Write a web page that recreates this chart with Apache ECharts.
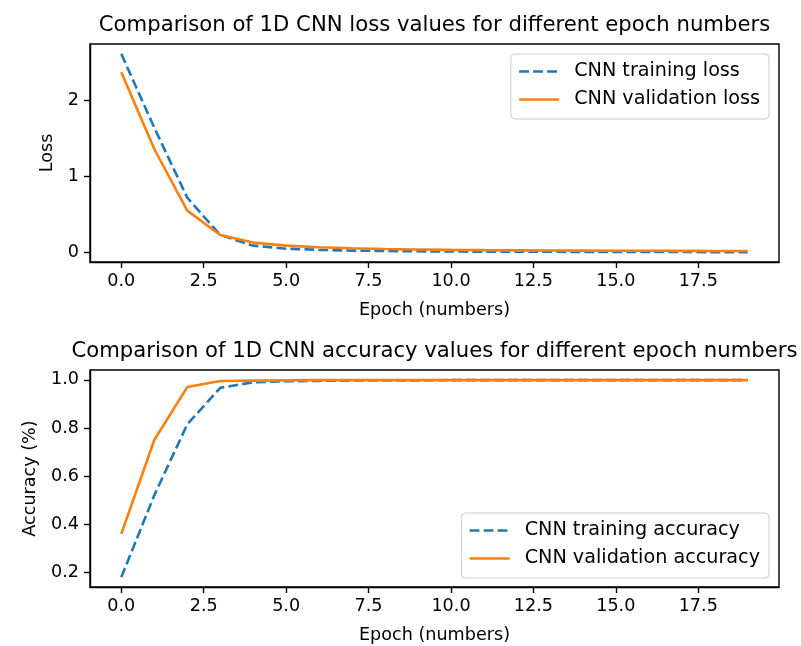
<!DOCTYPE html>
<html>
<head>
<meta charset="utf-8">
<script src="https://cdn.jsdelivr.net/npm/echarts@6/dist/echarts.min.js"></script>
<style>html,body{margin:0;padding:0;background:#fff;}#c{width:801px;height:646px;}</style>
</head>
<body>
<div id="c"></div>
<script>
const epochs = [0,1,2,3,4,5,6,7,8,9,10,11,12,13,14,15,16,17,18,19];
const trainLoss = [2.61,1.64,0.72,0.23,0.09,0.05,0.035,0.025,0.02,0.016,0.013,0.011,0.01,0.009,0.008,0.007,0.006,0.006,0.005,0.005];
const valLoss = [2.37,1.36,0.55,0.23,0.13,0.09,0.068,0.055,0.046,0.04,0.035,0.031,0.028,0.026,0.024,0.023,0.022,0.021,0.02,0.02];
const trainAcc = [0.18,0.52,0.815,0.967,0.99,0.994,0.996,0.997,0.998,0.998,0.999,0.999,0.999,0.999,0.999,0.999,0.999,0.999,0.999,0.999];
const valAcc = [0.36,0.75,0.97,0.995,0.997,0.998,0.999,0.999,0.999,0.999,0.999,0.999,0.999,0.999,0.999,0.999,0.999,0.999,0.999,0.999];
const xTicks = [0,2.5,5,7.5,10,12.5,15,17.5];
const lossTicks = [0,1,2];
const accTicks = [0.2,0.4,0.6,0.8,1.0];
const titles = ['Comparison of 1D CNN loss values for different epoch numbers','Comparison of 1D CNN accuracy values for different epoch numbers'];
const names = ['CNN training loss','CNN validation loss','CNN training accuracy','CNN validation accuracy'];

const BLUE = '#1f77b4', ORANGE = '#ff7f0e', FONT = 'DejaVu Sans', FS = 17.6, TFS = 21.2, LFS = 19.2;
const pair = (ys) => epochs.map((e,i) => [e, ys[i]]);

function xAxis(gi){
  return {
    type:'value', gridIndex:gi, min:-0.95, max:19.95,
    name:'Epoch (numbers)', nameLocation:'middle', nameGap:39,
    nameTextStyle:{fontFamily:FONT,fontSize:FS,color:'#000'},
    axisLine:{show:true,onZero:false,lineStyle:{color:'#000',width:1.4}},
    axisTick:{show:true,length:6,customValues:xTicks,lineStyle:{color:'#000',width:1.4}},
    axisLabel:{customValues:xTicks,margin:10,fontFamily:FONT,fontSize:FS,color:'#000',formatter:v=>v.toFixed(1)},
    splitLine:{show:false}
  };
}
function yAxis(gi,min,max,ticks,name,gap,fmt){
  return {
    type:'value', gridIndex:gi, min:min, max:max,
    name:name, nameLocation:'middle', nameGap:gap, nameRotate:90,
    nameTextStyle:{fontFamily:FONT,fontSize:FS,color:'#000'},
    axisLine:{show:true,onZero:false,lineStyle:{color:'#000',width:1.4}},
    axisTick:{show:true,length:6,customValues:ticks,lineStyle:{color:'#000',width:1.4}},
    axisLabel:{customValues:ticks,margin:11,fontFamily:FONT,fontSize:FS,color:'#000',formatter:fmt},
    splitLine:{show:false}
  };
}
function line(name,gi,ys,color,dashed){
  return {
    name:name, type:'line', xAxisIndex:gi, yAxisIndex:gi, data:pair(ys),
    symbol:'none', showSymbol:false, silent:true, animation:false,
    lineStyle:{color:color,width:2.6,type:dashed?[9.8,4.2]:'solid'},
    itemStyle:{color:color}
  };
}
function legend(data,pos){
  return Object.assign({
    orient:'vertical', data:data, itemWidth:40, itemHeight:14, itemGap:9,
    padding:[8,9,10,7], borderColor:'#cccccc', borderWidth:1, borderRadius:4,
    backgroundColor:'rgba(255,255,255,0.8)',
    itemStyle:{opacity:0},
    lineStyle:{width:2.6},
    textStyle:{fontFamily:FONT,fontSize:LFS,color:'#000',padding:[0,0,0,10]},
    selectedMode:false
  },pos);
}

const chart = echarts.init(document.getElementById('c'),null,{renderer:'canvas'});
chart.setOption({
  animation:false,
  backgroundColor:'#fff',
  title:[
    {text:titles[0],left:434.5,top:15,textAlign:'center',padding:0,textStyle:{fontFamily:FONT,fontSize:TFS,fontWeight:'normal',color:'#000'}},
    {text:titles[1],left:434.5,top:341,textAlign:'center',padding:0,textStyle:{fontFamily:FONT,fontSize:TFS,fontWeight:'normal',color:'#000'}}
  ],
  grid:[
    {left:90,top:44,width:689,height:218,show:true,borderColor:'#000',borderWidth:1.4,containLabel:false},
    {left:90,top:370,width:689,height:217,show:true,borderColor:'#000',borderWidth:1.4,containLabel:false}
  ],
  xAxis:[xAxis(0),xAxis(1)],
  yAxis:[
    yAxis(0,-0.125,2.74,lossTicks,'Loss',34,v=>String(Math.round(v))),
    yAxis(1,0.139,1.041,accTicks,'Accuracy (%)',51,v=>v.toFixed(1))
  ],
  legend:[
    legend([names[0],names[1]],{right:32,top:54}),
    legend([names[2],names[3]],{right:32,top:513})
  ],
  series:[
    line(names[0],0,trainLoss,BLUE,true),
    line(names[1],0,valLoss,ORANGE,false),
    line(names[2],1,trainAcc,BLUE,true),
    line(names[3],1,valAcc,ORANGE,false)
  ]
});
</script>
</body>
</html>
